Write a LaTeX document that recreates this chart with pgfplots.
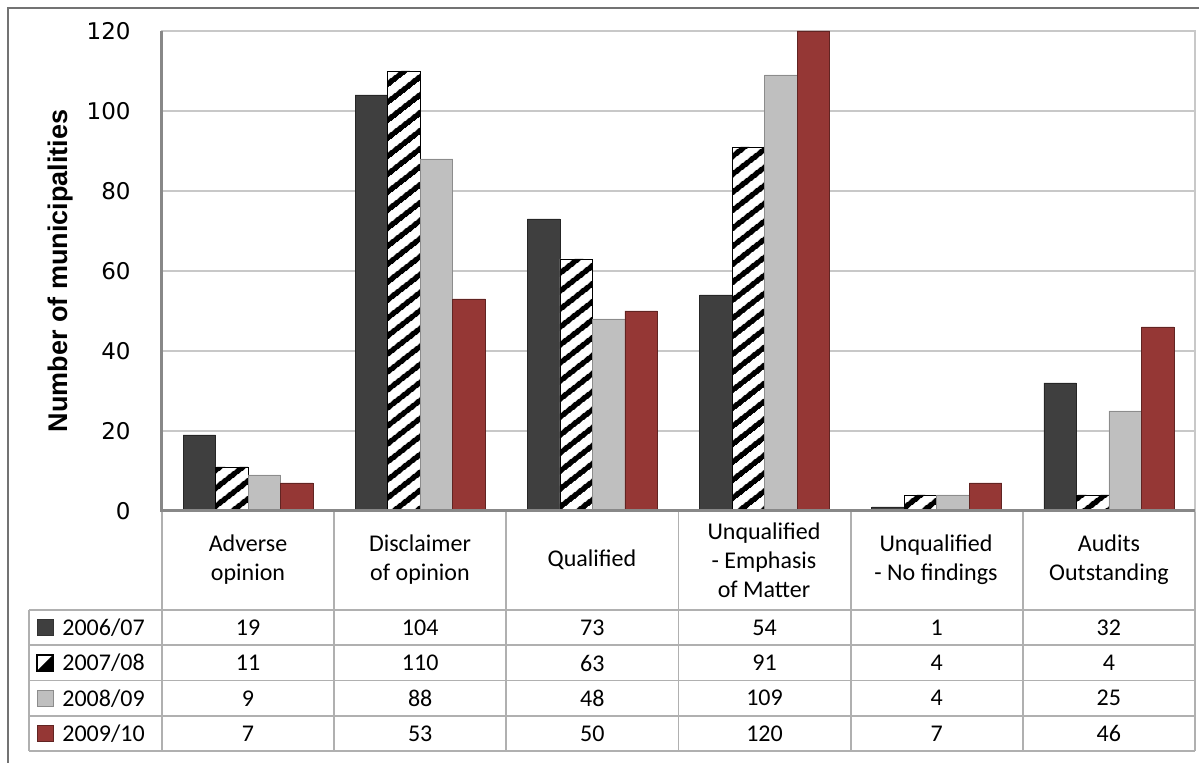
\documentclass[border=0pt]{standalone}
\usepackage{pgfplots}
\pgfplotsset{compat=1.18}
\usepackage{pgfplotstable}
\usepackage{fontspec}
\setmainfont{Carlito}
\newfontfamily\dejavu{DejaVu Sans}
\newfontfamily\arial{Liberation Sans}
\usetikzlibrary{patterns.meta}
\definecolor{cDark}{HTML}{3F3F3F}
\definecolor{cGray}{HTML}{BFBFBF}
\definecolor{cRed}{HTML}{953735}
\definecolor{gridc}{HTML}{C8C8C8}
\definecolor{tabc}{HTML}{B0B0B0}
\definecolor{axc}{HTML}{888888}
\newcommand{\pp}[2]{({((#1)-162)*0.5pt},{(511-(#2))*0.5pt})}
\newcommand{\tabfont}{\fontsize{12}{14.5}\selectfont}

\pgfplotstableread{
x  a    b    c    d
0  19   11   9    7
1  104  110  88   53
2  73   63   48   50
3  54   91   109  120
4  1    4    4    7
5  32   4    25   46
}\audits

\newcommand{\tabrow}[7]{%
  \foreach \v [count=\i from 0] in {#2,#3,#4,#5,#6,#7} {%
    \node[font=\tabfont, inner sep=0pt] at \pp{248+172.17*\i}{#1} {\v};}}

\begin{document}
\begin{tikzpicture}
\path[use as bounding box] \pp{0}{0} rectangle \pp{1199}{763};
\begin{axis}[
  at={(0,0)}, anchor=south west, scale only axis,
  width=516.5pt, height=240pt,
  xmin=-0.5, xmax=5.5, ymin=0, ymax=120,
  xtick=\empty, ytick={0,20,...,120},
  ybar=0pt, bar width=16.25pt,
  ymajorgrids, major grid style={gridc, line width=1pt},
  major tick length=0pt,
  axis line style={gridc, line width=1pt},
  /pgf/number format/assume math mode=true,
  yticklabel style={font=\dejavu\fontsize{11.5}{12}\selectfont, anchor=east, inner sep=0pt, xshift=-15.5pt},
  ylabel={Number of municipalities},
  every axis y label/.style={at={(axis description cs:-0.0987,0.5)}, rotate=90, anchor=center,
    font=\arial\bfseries\fontsize{13.5}{16}\selectfont},
  clip=false,
]
\addplot[fill=cDark, draw=black!85, line width=0.4pt] table[x=x, y=a] {\audits};
\addplot[draw=black, line width=0.4pt, preaction={fill=white},
  pattern={Lines[angle=38, distance=6.9pt, line width=2.8pt]}, pattern color=black] table[x=x, y=b] {\audits};
\addplot[fill=cGray, draw=black!45, line width=0.4pt] table[x=x, y=c] {\audits};
\addplot[fill=cRed, draw=cRed!65!black, line width=0.4pt] table[x=x, y=d] {\audits};
\draw[axc, line width=1.5pt] (rel axis cs:0,1) -- (rel axis cs:0,0) -- (rel axis cs:1,0);
\end{axis}

% outer frame
\draw[black!55, line width=1pt] \pp{8}{763} -- \pp{8}{8} -- \pp{1199}{8};

% data table grid
\foreach \y in {610,645.3,680.6,716,751.2} {\draw[tabc, line width=0.9pt] \pp{29}{\y} -- \pp{1195}{\y};}
\draw[tabc, line width=0.9pt] \pp{29}{610} -- \pp{29}{751.2};
\foreach \i in {0,...,6} {\draw[tabc, line width=0.9pt] \pp{162+172.17*\i}{512} -- \pp{162+172.17*\i}{751.2};}

% headers
\node[font=\tabfont, align=center] at \pp{248}{560} {Adverse\\opinion};
\node[font=\tabfont, align=center] at \pp{420}{560} {Disclaimer\\of opinion};
\node[font=\tabfont, align=center] at \pp{592}{560} {Qualified};
\node[font=\tabfont, align=center] at \pp{764}{560} {Unqualified\\- Emphasis\\of Matter};
\node[font=\tabfont, align=center] at \pp{936}{560} {Unqualified\\- No findings};
\node[font=\tabfont, align=center] at \pp{1109}{560} {Audits\\Outstanding};

% values
\tabrow{627.6}{19}{104}{73}{54}{1}{32}
\tabrow{663}{11}{110}{63}{91}{4}{4}
\tabrow{698.3}{9}{88}{48}{109}{4}{25}
\tabrow{733.6}{7}{53}{50}{120}{7}{46}

% legend keys
\draw[fill=cDark, draw=black!80, line width=0.4pt] \pp{37}{619.6} rectangle \pp{53}{635.6};
\draw[fill=white, draw=black, line width=0.6pt] \pp{37}{655} rectangle \pp{53}{671};
\fill[black] \pp{37}{671} -- \pp{53}{655} -- \pp{53}{671} -- cycle;
\draw[fill=cGray, draw=black!45, line width=0.4pt] \pp{37}{690.3} rectangle \pp{53}{706.3};
\draw[fill=cRed, draw=cRed!65!black, line width=0.4pt] \pp{37}{725.6} rectangle \pp{53}{741.6};
\node[font=\tabfont, anchor=west, inner sep=0pt] at \pp{62}{627.6} {2006/07};
\node[font=\tabfont, anchor=west, inner sep=0pt] at \pp{62}{663} {2007/08};
\node[font=\tabfont, anchor=west, inner sep=0pt] at \pp{62}{698.3} {2008/09};
\node[font=\tabfont, anchor=west, inner sep=0pt] at \pp{62}{733.6} {2009/10};
\end{tikzpicture}
\end{document}
